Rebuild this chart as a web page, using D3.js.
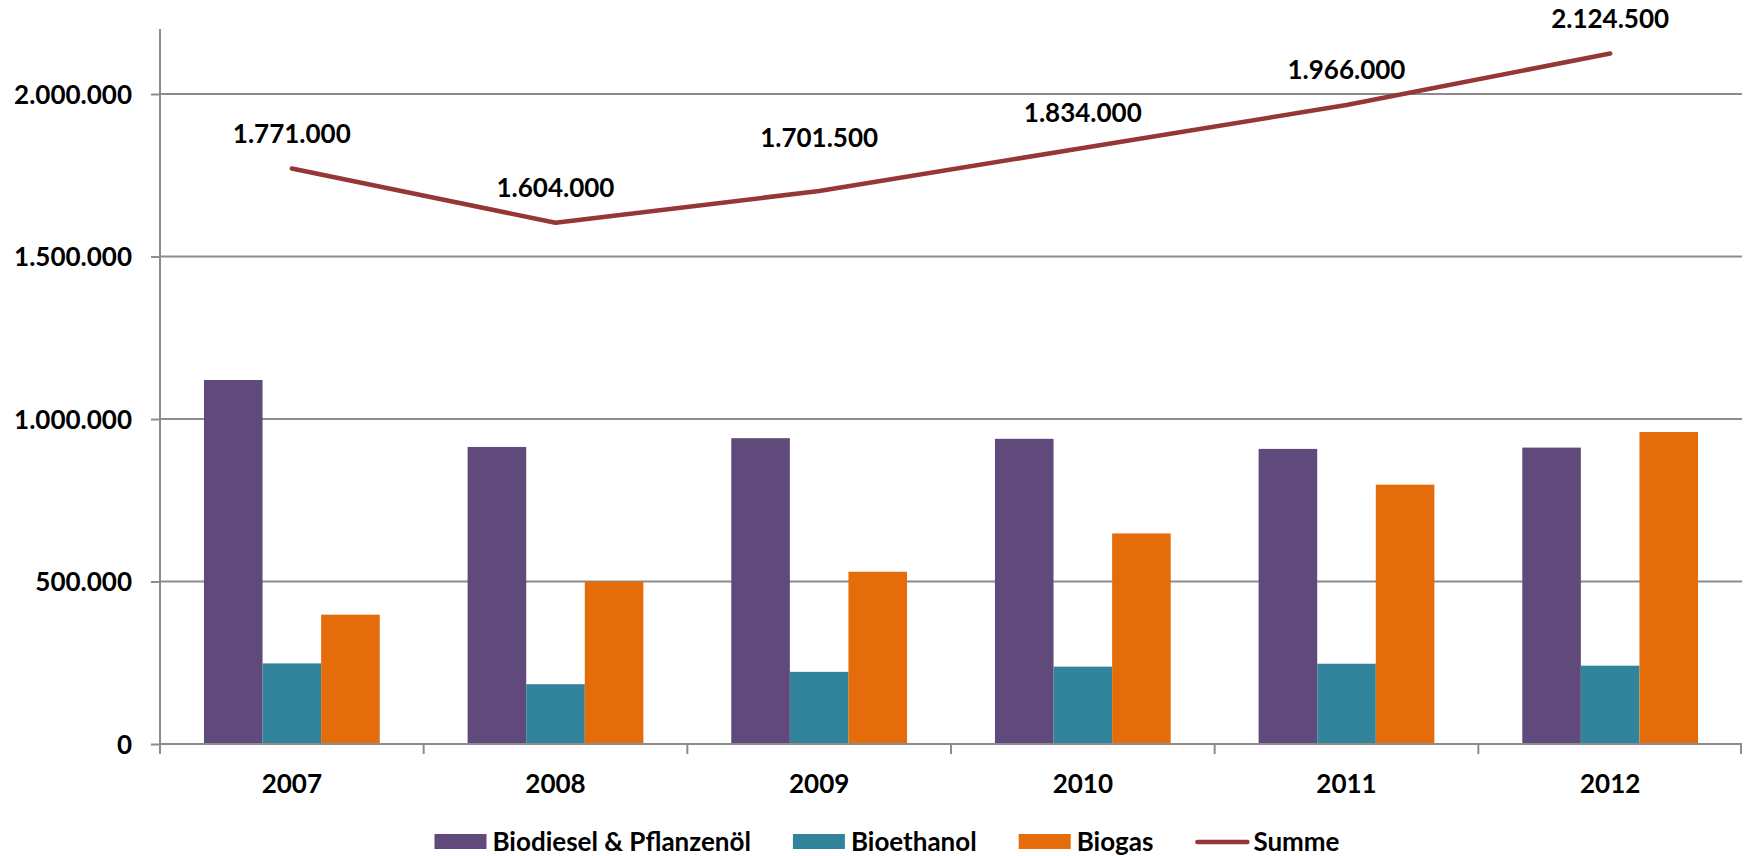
<!DOCTYPE html>
<html>
<head>
<meta charset="utf-8">
<script src="https://cdn.jsdelivr.net/npm/d3@7"></script>
<style>
  html, body { margin: 0; padding: 0; background: #fff; }
  svg text { font-family: Lato, "Open Sans", sans-serif; font-weight: bold; fill: #000; }
</style>
</head>
<body>
<div id="chart"></div>
<script>
'use strict';

var years = ['2007', '2008', '2009', '2010', '2011', '2012'];
var barSeries = ['Biodiesel & Pflanzenöl', 'Bioethanol', 'Biogas'];
var biodiesel = [1120000, 914000, 941000, 939000, 908000, 912000];
var bioethanol = [248000, 184000, 222000, 238000, 247000, 241000];
var biogas = [398000, 500000, 530000, 648000, 798000, 960000];
var summe = [1771000, 1604000, 1701500, 1834000, 1966000, 2124500];
var yTicks = [0, 500000, 1000000, 1500000, 2000000];

var colors = ['#604a7b', '#31849b', '#e46c0a'];
var lineColor = '#953735';
var gridColor = '#8c8c8c';

// hand-moved label in the original
var labelNudge = { '2009': -18 };

var width = 1744,
    height = 856;
var margin = {top: 29, right: 2, bottom: 112, left: 160};

var fmt = function (v) {
  return d3.format(',')(v).replace(/,/g, '.');
};

var svg = d3.select('#chart').append('svg')
  .attr('width', width)
  .attr('height', height);

var x0 = d3.scaleBand()
  .domain(years)
  .range([margin.left, width - margin.right])
  .paddingInner(0)
  .paddingOuter(0);

var x1 = d3.scaleBand()
  .domain(barSeries)
  .range([0, x0.bandwidth()])
  .paddingInner(0)
  .paddingOuter(0.75);

var y = d3.scaleLinear()
  .domain([0, 2200000])
  .range([height - margin.bottom, margin.top]);

var bottom = y(0);

// gridlines
svg.append('g')
  .selectAll('line')
  .data(yTicks.slice(1))
  .enter().append('line')
  .attr('x1', margin.left)
  .attr('x2', width - margin.right)
  .attr('y1', function (d) { return y(d); })
  .attr('y2', function (d) { return y(d); })
  .attr('stroke', gridColor)
  .attr('stroke-width', 2);

// bars
var rows = years.map(function (yr, i) {
  return {year: yr, values: [biodiesel[i], bioethanol[i], biogas[i]]};
});

svg.append('g')
  .selectAll('g')
  .data(rows)
  .enter().append('g')
  .attr('transform', function (d) { return 'translate(' + x0(d.year) + ',0)'; })
  .selectAll('rect')
  .data(function (d) {
    return d.values.map(function (v, k) { return {key: barSeries[k], value: v, k: k}; });
  })
  .enter().append('rect')
  .attr('x', function (d) { return x1(d.key); })
  .attr('y', function (d) { return y(d.value); })
  .attr('width', x1.bandwidth())
  .attr('height', function (d) { return bottom - y(d.value); })
  .attr('fill', function (d) { return colors[d.k]; });

// y axis
var yAxis = svg.append('g')
  .attr('transform', 'translate(' + margin.left + ',0)')
  .call(d3.axisLeft(y).tickValues(yTicks).tickFormat(fmt).tickSizeInner(9).tickSizeOuter(0).tickPadding(19));
yAxis.select('.domain').remove();
yAxis.selectAll('.tick line').attr('stroke', gridColor).attr('stroke-width', 2);
yAxis.selectAll('.tick text').attr('font-size', 26).attr('dy', '0.36em');
yAxis.append('line')
  .attr('x1', 0).attr('x2', 0)
  .attr('y1', margin.top).attr('y2', bottom + 10)
  .attr('stroke', gridColor)
  .attr('stroke-width', 2);

// x axis
var xAxis = svg.append('g');
xAxis.append('line')
  .attr('x1', margin.left).attr('x2', width - margin.right)
  .attr('y1', bottom).attr('y2', bottom)
  .attr('stroke', gridColor)
  .attr('stroke-width', 2);
xAxis.selectAll('line.tick')
  .data(years.concat(['end']))
  .enter().append('line')
  .attr('class', 'tick')
  .attr('x1', function (d) { return d === 'end' ? x0.range()[1] - 1 : x0(d); })
  .attr('x2', function (d) { return d === 'end' ? x0.range()[1] - 1 : x0(d); })
  .attr('y1', bottom).attr('y2', bottom + 10)
  .attr('stroke', gridColor)
  .attr('stroke-width', 2);
xAxis.selectAll('text')
  .data(years)
  .enter().append('text')
  .attr('x', function (d) { return x0(d) + x0.bandwidth() / 2; })
  .attr('y', bottom + 49)
  .attr('text-anchor', 'middle')
  .attr('font-size', 26)
  .text(function (d) { return d; });

// sum line
var line = d3.line()
  .x(function (d, i) { return x0(years[i]) + x0.bandwidth() / 2; })
  .y(function (d) { return y(d); });

svg.append('path')
  .datum(summe)
  .attr('d', line)
  .attr('fill', 'none')
  .attr('stroke', lineColor)
  .attr('stroke-width', 4.5)
  .attr('stroke-linecap', 'round')
  .attr('stroke-linejoin', 'round');

svg.append('g')
  .selectAll('text')
  .data(summe)
  .enter().append('text')
  .attr('x', function (d, i) { return x0(years[i]) + x0.bandwidth() / 2; })
  .attr('y', function (d, i) { return y(d) - 35 + (labelNudge[years[i]] || 0); })
  .attr('dy', '0.36em')
  .attr('text-anchor', 'middle')
  .attr('font-size', 26)
  .text(fmt);

// legend
var legendItems = barSeries.map(function (s, k) { return {name: s, color: colors[k], type: 'bar'}; })
  .concat([{name: 'Summe', color: lineColor, type: 'line'}]);

var legend = svg.append('g');
var lx = 0;
legendItems.forEach(function (item) {
  var g = legend.append('g').attr('transform', 'translate(' + lx + ',0)');
  if (item.type === 'bar') {
    g.append('rect')
      .attr('x', 0).attr('y', -8)
      .attr('width', 52).attr('height', 15)
      .attr('fill', item.color);
  } else {
    g.append('line')
      .attr('x1', 2).attr('x2', 52)
      .attr('y1', 0).attr('y2', 0)
      .attr('stroke', item.color)
      .attr('stroke-width', 4.5)
      .attr('stroke-linecap', 'round');
  }
  var t = g.append('text')
    .attr('x', 58)
    .attr('y', 0)
    .attr('dy', '0.36em')
    .attr('font-size', 26)
    .text(item.name);
  lx += 58 + t.node().getComputedTextLength() + 42;
});
lx -= 42;
legend.attr('transform', 'translate(' + (887 - lx / 2) + ',' + 842 + ')');
</script>
</body>
</html>
